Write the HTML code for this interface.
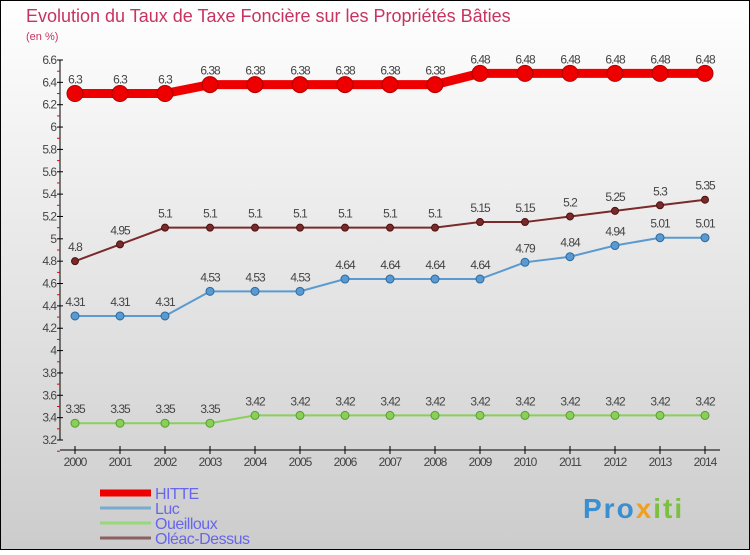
<!DOCTYPE html>
<html><head><meta charset="utf-8"><style>
body{margin:0;}
svg text{font-family:"Liberation Sans",sans-serif;}
</style></head><body>
<svg width="750" height="550" xmlns="http://www.w3.org/2000/svg">
<defs><linearGradient id="bg" x1="0" y1="0" x2="0" y2="1"><stop offset="0" stop-color="#ffffff"/><stop offset="1" stop-color="#cccccc"/></linearGradient></defs>
<rect x="0.5" y="0.5" width="749" height="549" fill="url(#bg)" stroke="#000"/>
<text x="26" y="22" font-size="18" fill="#c8335f">Evolution du Taux de Taxe Foncière sur les Propriétés Bâties</text>
<text x="26" y="40" font-size="11" fill="#c8335f">(en %)</text>
<g id="axes"></g>
<g id="series"></g>
<g id="legend"></g>
<text x="583" y="518" font-size="28" font-weight="bold" letter-spacing="2" fill="#3a8fd0">Pro<tspan fill="#f0a020">x</tspan><tspan fill="#7cc040">iti</tspan></text>
</svg>
<script>
const years=[2000,2001,2002,2003,2004,2005,2006,2007,2008,2009,2010,2011,2012,2013,2014];
const hitte=[6.3,6.3,6.3,6.38,6.38,6.38,6.38,6.38,6.38,6.48,6.48,6.48,6.48,6.48,6.48];
const luc=[4.31,4.31,4.31,4.53,4.53,4.53,4.64,4.64,4.64,4.64,4.79,4.84,4.94,5.01,5.01];
const oueilloux=[3.35,3.35,3.35,3.35,3.42,3.42,3.42,3.42,3.42,3.42,3.42,3.42,3.42,3.42,3.42];
const oleac=[4.8,4.95,5.1,5.1,5.1,5.1,5.1,5.1,5.1,5.15,5.15,5.2,5.25,5.3,5.35];
const yTicks=[3.2,3.4,3.6,3.8,4,4.2,4.4,4.6,4.8,5,5.2,5.4,5.6,5.8,6,6.2,6.4,6.6];
const NS="http://www.w3.org/2000/svg";
const X=i=>75+i*45, Y=v=>60+(6.6-v)/3.4*380;
function mk(t,a,p){const e=document.createElementNS(NS,t);for(const k in a)e.setAttribute(k,a[k]);p.appendChild(e);return e;}
const ax=document.getElementById('axes');
let l=mk('line',{x1:60,y1:60,x2:60,y2:440,stroke:'#000'},ax);


l=mk('line',{x1:60,y1:450,x2:720,y2:450,stroke:'#000'},ax);


yTicks.forEach(v=>{const y=Y(v);
 mk('line',{x1:57,y1:y,x2:63,y2:y,stroke:'#000'},ax);
 mk('line',{x1:57,y1:y+11.2,x2:60,y2:y+11.2,stroke:'#e00'},ax);
 const t=mk('text',{x:56,y:y+4,'font-size':12,fill:'#444','text-anchor':'end','letter-spacing':'-1'},ax);t.textContent=String(v);
 
 
});
years.forEach((yr,i)=>{mk('line',{x1:X(i),y1:446,x2:X(i),y2:454,stroke:'#000'},ax);
 const t=mk('text',{x:X(i),y:466,'font-size':12,fill:'#444','text-anchor':'middle','letter-spacing':'-1'},ax);t.textContent=yr;
 
 
});
const sg=document.getElementById('series');
function series(name,vals,col,dark,w,r){
 const g=mk('g',{},sg);
 
 
 mk('polyline',{points:vals.map((v,i)=>X(i)+','+Y(v)).join(' '),fill:'none',stroke:col,'stroke-width':w},g);
 vals.forEach((v,i)=>{const c=mk('circle',{cx:X(i),cy:Y(v),r:r,fill:col,stroke:dark,'stroke-width':1},g);
  
  
  const t=mk('text',{x:X(i),y:Y(v)-10,'font-size':12,fill:'#444','text-anchor':'middle','letter-spacing':'-1'},g);t.textContent=String(v);
  
  
 });
}
series('oueilloux',oueilloux,'#88d058','#5a9a30',2,4);
series('luc',luc,'#5a9ad0','#2a6aa0',2,4);
series('oleac',oleac,'#7a2a2a','#4a1010',2,3.5);
series('hitte',hitte,'#ee0000','#b00000',9,8);
const lg=document.getElementById('legend');
[['HITTE','#ee0000',7],['Luc','#7aaad0',3],['Oueilloux','#98d878',3],['Oléac-Dessus','#8a6060',3]].forEach((e,i)=>{
 const y=493+i*15;
 const g=mk('g',{},lg);
 
 
 mk('line',{x1:100,y1:y,x2:151,y2:y,stroke:e[1],'stroke-width':e[2]},g);
 const t=mk('text',{x:155,y:y+6,'font-size':16,fill:'#6666ee','letter-spacing':'-0.5'},g);t.textContent=e[0];
});
</script>
</body></html>
